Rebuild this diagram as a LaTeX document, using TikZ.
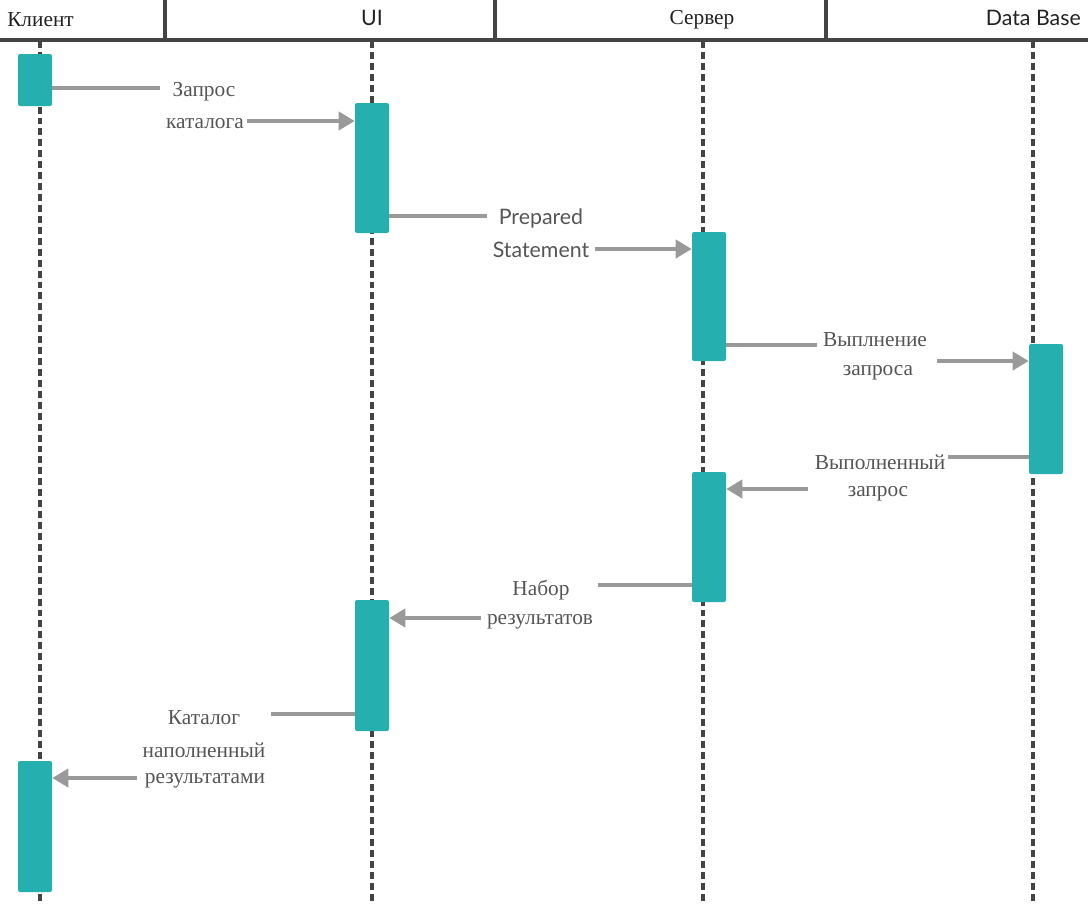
\documentclass[tikz,border=0pt]{standalone}
\usepackage{fontspec}
\setmainfont{Liberation Serif}
\newfontfamily\latofont{Lato}
\usetikzlibrary{arrows.meta}
\definecolor{actfill}{HTML}{25AFAF}
\definecolor{msggray}{HTML}{999999}
\definecolor{lifegray}{HTML}{444444}
\definecolor{txtgray}{HTML}{555555}
\definecolor{hdrtxt}{HTML}{222222}
\tikzset{
  act/.style={fill=actfill, draw=none, rounded corners=1.5pt, minimum width=25.5pt, minimum height=#1, inner sep=0pt},
  lifeline/.style={draw=lifegray, line width=2.6pt, dash pattern=on 5.2pt off 3pt},
  hdrline/.style={draw=lifegray, line width=2.6pt},
  msgline/.style={draw=msggray, line width=2.8pt},
  msgarrow/.style={draw=msggray, line width=2.8pt, -{Triangle[length=12pt,width=13.5pt]}},
  lbl/.style={text=txtgray, font=\fontsize{16}{19}\selectfont, inner sep=0pt, yshift=-1.5pt},
  lbls/.style={text=txtgray, font=\latofont\fontsize{16}{19}\selectfont, inner sep=0pt, yshift=-1pt},
  hdr/.style={text=hdrtxt, font=\fontsize{16}{19}\selectfont, inner sep=0pt, yshift=-1.5pt},
  hdrs/.style={text=hdrtxt, font=\latofont\fontsize{16}{19}\selectfont, inner sep=0pt, yshift=-1pt}
}
\begin{document}
\begin{tikzpicture}[x=0.75pt,y=-0.75pt]
\useasboundingbox (0,0) rectangle (1088,904);
% header
\coordinate (hl) at (0,40);
\coordinate (hr) at (1088,40);
\draw[hdrline] (hl) -- (hr);
\foreach \xx/\nm in {165/s1,495/s2,826/s3}{
  \coordinate (\nm t) at (\xx,0);
  \coordinate (\nm b) at (\xx,40);
  \draw[hdrline] (\nm t) -- (\nm b);
}
\node[hdr, anchor=west] (h1) at (7,18) {Клиент};
\node[hdrs] (h2) at (372,17) {UI};
\node[hdr] (h3) at (702,18) {Сервер};
\node[hdrs, anchor=east] (h4) at (1081,17) {Data Base};
% lifelines
\foreach \xx/\nm in {40/l1,372/l2,703/l3,1033/l4}{
  \coordinate (\nm t) at (\xx,41);
  \coordinate (\nm b) at (\xx,904);
  \draw[lifeline] (\nm t) -- (\nm b);
}
% activations
\node[act=39pt] (a1) at (35,80) {};
\node[act=97.5pt] (a2) at (372,168) {};
\node[act=96.75pt] (a3) at (709,296.5) {};
\node[act=97.5pt] (a4) at (1046,409) {};
\node[act=97.5pt] (a5) at (709,537) {};
\node[act=98.25pt] (a6) at (372,665.5) {};
\node[act=98.25pt] (a7) at (35,826.5) {};
% labels
\node[lbl] (m1a) at (204,90) {Запрос};
\node[lbl] (m1b) at (205,122) {каталога};
\node[lbls] (m2a) at (541,217) {Prepared};
\node[lbls] (m2b) at (541,249) {Statement};
\node[lbl] (m3a) at (875,338) {Выплнение};
\node[lbl] (m3b) at (878,371) {запроса};
\node[lbl] (m4a) at (880,460) {Выполненный};
\node[lbl] (m4b) at (878,492) {запрос};
\node[lbl] (m5a) at (541,588) {Набор};
\node[lbl] (m5b) at (540,620) {результатов};
\node[lbl] (m6a) at (204,716) {Каталог};
\node[lbl] (m6b) at (204,748) {наполненный};
\node[lbl] (m6c) at (205,779) {результатами};
% break points
\coordinate (c1a) at (160,88);  \coordinate (c1b) at (247,121);
\coordinate (c2a) at (487,216); \coordinate (c2b) at (595,249);
\coordinate (c3a) at (817,345); \coordinate (c3b) at (937,361);
\coordinate (c4a) at (948,457); \coordinate (c4b) at (808,489);
\coordinate (c5a) at (598,585); \coordinate (c5b) at (481,618);
\coordinate (c6a) at (271,714); \coordinate (c6b) at (137,778);
% messages
\draw[msgline] (a1.east |- c1a) -- (c1a);
\draw[msgarrow] (c1b) -- (a2.west |- c1b);
\draw[msgline] (a2.east |- c2a) -- (c2a);
\draw[msgarrow] (c2b) -- (a3.west |- c2b);
\draw[msgline] (a3.east |- c3a) -- (c3a);
\draw[msgarrow] (c3b) -- (a4.west |- c3b);
\draw[msgline] (a4.west |- c4a) -- (c4a);
\draw[msgarrow] (c4b) -- (a5.east |- c4b);
\draw[msgline] (a5.west |- c5a) -- (c5a);
\draw[msgarrow] (c5b) -- (a6.east |- c5b);
\draw[msgline] (a6.west |- c6a) -- (c6a);
\draw[msgarrow] (c6b) -- (a7.east |- c6b);
\end{tikzpicture}
\end{document}
